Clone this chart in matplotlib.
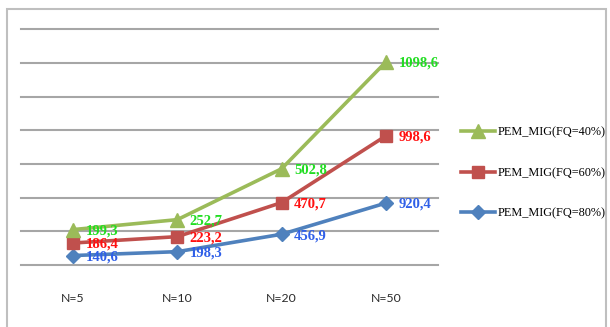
import matplotlib
matplotlib.use("Agg")
import matplotlib.pyplot as plt
from matplotlib.patches import Rectangle
import numpy as np

categories = ["N=5", "N=10", "N=20", "N=50"]
fq80 = [140.6, 198.3, 456.9, 920.4]
fq60 = [186.4, 223.2, 470.7, 998.6]
fq40 = [199.3, 252.7, 502.8, 1098.6]
labels80 = ["140,6", "198,3", "456,9", "920,4"]
labels60 = ["186,4", "223,2", "470,7", "998,6"]
labels40 = ["199,3", "252,7", "502,8", "1098,6"]
series_names = ["PEM_MIG(FQ=80%)", "PEM_MIG(FQ=60%)", "PEM_MIG(FQ=40%)"]

W, H = 610, 327
fig = plt.figure(figsize=(W / 100, H / 100), dpi=100)
ax = fig.add_axes([21 / W, 1 - 265 / H, (438 - 21) / W, (265 - 29.5) / H])

x = np.arange(len(categories))
s80 = np.array(fq80)
s60 = s80 + np.array(fq60)
s40 = s60 + np.array(fq40)

line_cols = ["#4F81BD", "#C0504D", "#9BBB59"]
lab_cols = ["#2F5FE8", "#FF1010", "#22DD22"]
markers = ["D", "s", "^"]
msizes = [7, 9, 10]
stacks = [s80, s60, s40]
labs = [labels80, labels60, labels40]

handles = []
for i in range(3):
    h, = ax.plot(x, stacks[i], color=line_cols[i], lw=2.6, marker=markers[i],
                 markersize=msizes[i], markeredgecolor=line_cols[i],
                 label=series_names[i], zorder=3 + i)
    handles.append(h)
    for xi, yi, t in zip(x, stacks[i], labs[i]):
        ax.annotate(t, (xi, yi), xytext=(9, -1), textcoords="offset points",
                    ha="left", va="center", color=lab_cols[i],
                    fontfamily="Liberation Serif", fontweight="bold",
                    fontsize=10.5, zorder=10)

ax.set_xlim(-0.5, 3.5)
ax.set_ylim(0, 3500)
ax.set_yticks(np.arange(0, 3501, 500))
ax.yaxis.grid(True, color="#A6A6A6", lw=1.5)
for gl in ax.get_ygridlines():
    gl.set_clip_on(False)
ax.set_axisbelow(True)
ax.tick_params(axis="y", left=False, labelleft=False)
ax.set_xticks(x)
ax.set_xticklabels(categories, fontfamily="Lato", fontsize=8.8, color="#2A2A2A")
ax.tick_params(axis="x", length=0, pad=20)
for sp in ax.spines.values():
    sp.set_visible(False)

leg = fig.legend(handles[::-1], [series_names[2], series_names[1], series_names[0]],
                 loc="upper left", bbox_to_anchor=(455 / W, 1 - 120 / H),
                 frameon=False, borderpad=0, labelspacing=2.35, handlelength=2.8,
                 handletextpad=0.15,
                 prop={"family": "Liberation Serif", "size": 8.8})

fig.patches.append(Rectangle((7 / W, -0.1), (606 - 7) / W, 1.1 - 9 / H,
                             transform=fig.transFigure, fill=False,
                             edgecolor="#BFBFBF", lw=1.5))

fig.savefig("out.png", dpi=100)
